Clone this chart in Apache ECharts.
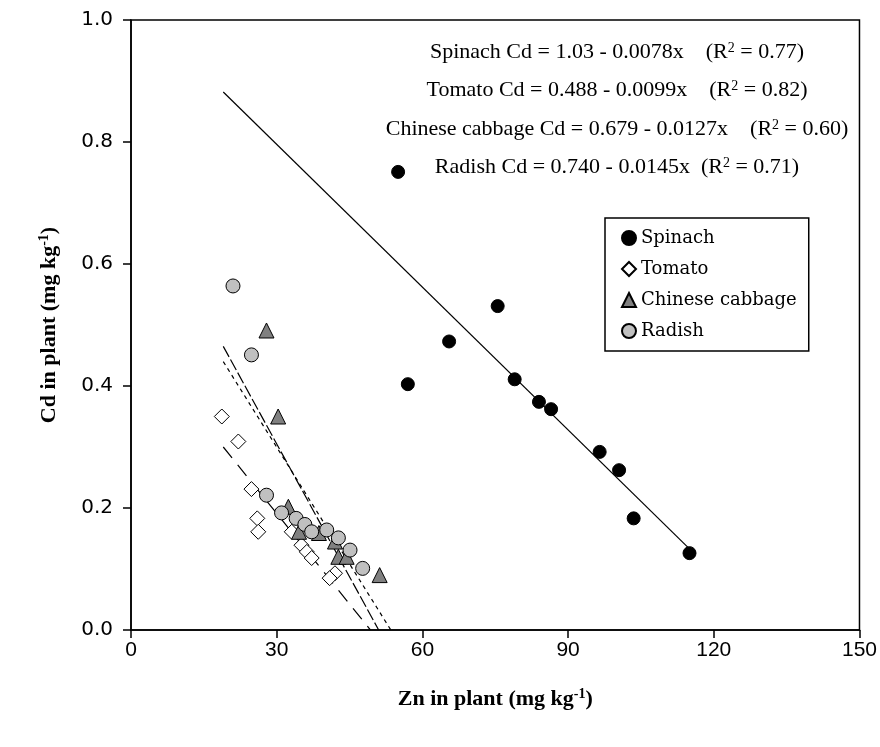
<!DOCTYPE html>
<html><head><meta charset="utf-8">
<script src="https://cdn.jsdelivr.net/npm/echarts@6/dist/echarts.min.js"></script>
<style>html,body{margin:0;padding:0;background:#fff;}#c{width:880px;height:747px;}</style>
</head><body><div id="c"></div>
<script>
// ---- data ----
var seriesNames = ['Spinach', 'Tomato', 'Chinese cabbage', 'Radish'];
var spinachZn = [55, 57, 65.5, 75.5, 79, 84, 86.5, 96.5, 100.5, 103.5, 115];
var spinachCd = [0.751, 0.403, 0.473, 0.531, 0.411, 0.374, 0.362, 0.292, 0.262, 0.183, 0.126];
var tomatoZn = [18.7, 22.1, 24.8, 26.0, 26.2, 33.1, 35.1, 36.2, 37.2, 42.0, 40.9];
var tomatoCd = [0.350, 0.309, 0.231, 0.183, 0.161, 0.161, 0.139, 0.128, 0.118, 0.093, 0.085];
var cabbageZn = [27.9, 30.3, 32.4, 34.6, 38.7, 42.0, 42.7, 44.4, 51.2];
var cabbageCd = [0.491, 0.350, 0.202, 0.161, 0.159, 0.145, 0.120, 0.120, 0.090];
var radishZn = [21.0, 24.8, 27.9, 31.0, 34.0, 35.8, 37.2, 40.3, 42.7, 45.1, 47.7];
var radishCd = [0.564, 0.451, 0.221, 0.192, 0.183, 0.173, 0.161, 0.164, 0.151, 0.131, 0.101];
// regression line end points (Zn, Cd)
var spinachFitZn = [19, 115];  var spinachFitCd = [0.882, 0.133];
var tomatoFitZn = [19, 49.3];  var tomatoFitCd = [0.300, 0];
var cabbageFitZn = [19, 53.5]; var cabbageFitCd = [0.440, 0];
var radishFitZn = [19, 51.0];  var radishFitCd = [0.465, 0];
var equations = [
  ['Spinach Cd = 1.03 - 0.0078x    (R', ' = 0.77)'],
  ['Tomato Cd = 0.488 - 0.0099x    (R', ' = 0.82)'],
  ['Chinese cabbage Cd = 0.679 - 0.0127x    (R', ' = 0.60)'],
  ['Radish Cd = 0.740 - 0.0145x  (R', ' = 0.71)']
];
var xTicks = [0, 30, 60, 90, 120, 150];
var yTicks = [0, 0.2, 0.4, 0.6, 0.8, 1.0];

function pairs(xs, ys) { return xs.map(function (x, i) { return [x, ys[i]]; }); }

var chart = echarts.init(document.getElementById('c'), null, {renderer: 'canvas'});
var serif = 'Liberation Serif';
var eqGraphics = equations.map(function (e, i) {
  return {
    type: 'text', x: 617, y: 52 + i * 38.5,
    style: {
      text: '{a|' + e[0] + '}{s|2}{a|' + e[1] + '}',
      align: 'center', verticalAlign: 'middle',
      rich: {
        a: {fontFamily: serif, fontSize: 22, fill: '#000', height: 24},
        s: {fontFamily: serif, fontSize: 14, fill: '#000', height: 24, verticalAlign: 'top', padding: [0, 0, 8, 0]}
      }
    }
  };
});

var scatterBase = {type: 'scatter', z: 3};
chart.setOption({
  animation: false,
  backgroundColor: '#fff',
  grid: {left: 131, right: 20, top: 20, bottom: 117, show: true, borderColor: '#000', borderWidth: 1.5, backgroundColor: 'transparent'},
  xAxis: {
    type: 'value', min: 0, max: 150, interval: 30,
    axisLine: {show: true, onZero: false, lineStyle: {color: '#000', width: 1.5}},
    axisTick: {show: true, inside: false, length: 8, lineStyle: {color: '#000', width: 1.5}},
    splitLine: {show: false},
    axisLabel: {color: '#000', fontFamily: 'Liberation Sans', fontSize: 21, margin: 10,
      formatter: function (v) { return xTicks.indexOf(v) >= 0 ? String(v) : ''; }},
    name: '{b|Zn in plant (mg kg}{sup|-1}{b|)}', nameLocation: 'middle', nameGap: 57,
    nameTextStyle: {rich: {
      b: {fontFamily: serif, fontWeight: 'bold', fontSize: 22, color: '#000'},
      sup: {fontFamily: serif, fontWeight: 'bold', fontSize: 14, color: '#000', verticalAlign: 'top', padding: [0, 0, 10, 0]}
    }}
  },
  yAxis: {
    type: 'value', min: 0, max: 1, interval: 0.2,
    axisLine: {show: true, onZero: false, lineStyle: {color: '#000', width: 1.5}},
    axisTick: {show: true, inside: false, length: 8, lineStyle: {color: '#000', width: 1.5}},
    splitLine: {show: false},
    axisLabel: {color: '#000', fontFamily: 'DejaVu Sans', fontSize: 20, margin: 18,
      formatter: function (v) { return v.toFixed(1); }},
    name: '{b|Cd in plant (mg kg}{sup|-1}{b|)}', nameLocation: 'middle', nameGap: 70, nameRotate: 90,
    nameTextStyle: {rich: {
      b: {fontFamily: serif, fontWeight: 'bold', fontSize: 22, color: '#000'},
      sup: {fontFamily: serif, fontWeight: 'bold', fontSize: 14, color: '#000', verticalAlign: 'top', padding: [0, 0, 10, 0]}
    }}
  },
  legend: {
    data: seriesNames, orient: 'vertical', left: 605, top: 218,
    padding: [11, 12, 11, 16], itemGap: 13, itemWidth: 14, itemHeight: 14,
    borderColor: '#000', borderWidth: 1.5, backgroundColor: '#fff',
    textStyle: {fontFamily: 'DejaVu Serif', fontSize: 18, color: '#000', lineHeight: 18}
  },
  graphic: eqGraphics,
  series: [
    {type: 'line', name: 'fit-spinach', data: pairs(spinachFitZn, spinachFitCd), showSymbol: false, symbol: 'none',
      lineStyle: {color: '#000', width: 1.2, type: 'solid'}, z: 2, silent: true},
    {type: 'line', name: 'fit-tomato', data: pairs(tomatoFitZn, tomatoFitCd), showSymbol: false, symbol: 'none',
      lineStyle: {color: '#000', width: 1.2, type: [14, 9]}, z: 2, silent: true},
    {type: 'line', name: 'fit-cabbage', data: pairs(cabbageFitZn, cabbageFitCd), showSymbol: false, symbol: 'none',
      lineStyle: {color: '#000', width: 1.2, type: [4, 4]}, z: 2, silent: true},
    {type: 'line', name: 'fit-radish', data: pairs(radishFitZn, radishFitCd), showSymbol: false, symbol: 'none',
      lineStyle: {color: '#000', width: 1.2, type: [12, 3]}, z: 2, silent: true},
    Object.assign({}, scatterBase, {name: 'Spinach', symbol: 'circle', symbolSize: 13, data: pairs(spinachZn, spinachCd),
      itemStyle: {color: '#000', borderColor: '#000', borderWidth: 1, opacity: 1}}),
    Object.assign({}, scatterBase, {name: 'Tomato', symbol: 'diamond', symbolSize: 15, data: pairs(tomatoZn, tomatoCd),
      itemStyle: {color: '#fff', borderColor: '#000', borderWidth: 1, opacity: 1}}),
    Object.assign({}, scatterBase, {name: 'Chinese cabbage', symbol: 'triangle', symbolSize: 15, data: pairs(cabbageZn, cabbageCd),
      itemStyle: {color: '#808080', borderColor: '#000', borderWidth: 1, opacity: 1}}),
    Object.assign({}, scatterBase, {name: 'Radish', symbol: 'circle', symbolSize: 14, data: pairs(radishZn, radishCd),
      itemStyle: {color: '#c0c0c0', borderColor: '#000', borderWidth: 1, opacity: 1}})
  ]
});
</script>
</body></html>
